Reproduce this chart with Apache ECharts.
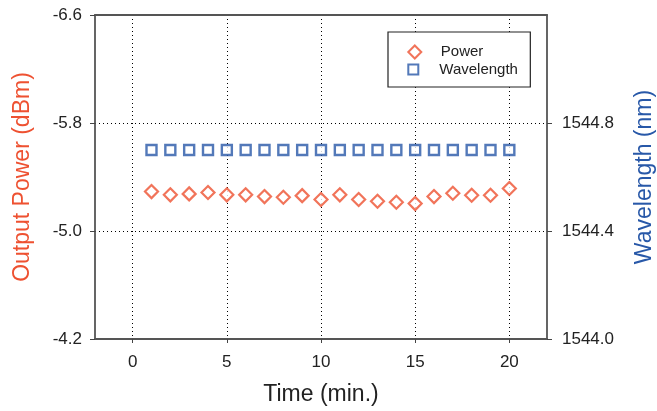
<!DOCTYPE html>
<html><head><meta charset="utf-8">
<script src="https://cdn.jsdelivr.net/npm/echarts@6/dist/echarts.min.js"></script>
<style>html,body{margin:0;padding:0;background:#fff}#c{width:657px;height:411px}</style>
</head><body><div id="c"></div>
<script>
const timeMin = [1,2,3,4,5,6,7,8,9,10,11,12,13,14,15,16,17,18,19,20];
const powerDbm = [-5.292,-5.268,-5.275,-5.285,-5.268,-5.268,-5.255,-5.250,-5.262,-5.233,-5.268,-5.233,-5.220,-5.213,-5.203,-5.255,-5.280,-5.265,-5.265,-5.315];
const wavelengthNm = [1544.70,1544.70,1544.70,1544.70,1544.70,1544.70,1544.70,1544.70,1544.70,1544.70,1544.70,1544.70,1544.70,1544.70,1544.70,1544.70,1544.70,1544.70,1544.70,1544.70];
const xTicks = [0,5,10,15,20];
const powerTicks = [-6.6,-5.8,-5.0,-4.2];
const wlTicks = [1544.0,1544.4,1544.8];

const RED = '#EE5131', BLUE = '#2858A8', FONT = 'Liberation Sans, Arial, sans-serif';
const chart = echarts.init(document.getElementById('c'), null, {renderer:'canvas'});
const axisLineStyle = {color:'#555', width:1.8};
const legendText = {fontFamily:FONT, fontSize:15, color:'#222'};
chart.setOption({
  animation:false,
  textStyle:{fontFamily:FONT},
  grid:{left:95, right:110, top:15, bottom:72, containLabel:false, outerBoundsMode:'none'},
  legend:[{
    orient:'vertical', left:388, top:32,
    backgroundColor:'#fff', borderColor:'#222', borderWidth:1.2,
    padding:[12.5,47,27.5,19.3], itemWidth:42, itemHeight:13,
    textStyle:legendText,
    data:[{name:'Power', icon:'path://M5,0L10,5L5,10L0,5Z'}]
  },{
    orient:'vertical', left:407.3, top:62,
    padding:0, itemWidth:42, itemHeight:10,
    textStyle:legendText,
    data:[{name:'Wavelength', icon:'path://M0,0L10,0L10,10L0,10Z'}]
  }],
  xAxis:[{
    type:'value', min:-2, max:22, position:'bottom',
    name:'Time (min.)', nameLocation:'middle', nameGap:44,
    nameTextStyle:{fontFamily:FONT, fontSize:23, color:'#222'},
    axisLine:{show:true, onZero:false, lineStyle:axisLineStyle},
    axisTick:{show:true, inside:false, length:4, customValues:xTicks, lineStyle:{color:'#444'}},
    axisLabel:{customValues:xTicks, margin:15, fontSize:17, color:'#222', fontFamily:FONT},
    splitLine:{show:true, lineStyle:{color:'#000', type:[1,3], width:1}}
  },{
    type:'value', min:-2, max:22, position:'top',
    axisLine:{show:true, onZero:false, lineStyle:axisLineStyle},
    axisTick:{show:false}, axisLabel:{show:false}, splitLine:{show:false}
  }],
  yAxis:[{
    type:'value', min:-6.6, max:-4.2, inverse:true, position:'left',
    name:'Output Power (dBm)', nameLocation:'middle', nameGap:61,
    nameTextStyle:{fontFamily:FONT, fontSize:23, color:RED},
    axisLine:{show:true, onZero:false, lineStyle:axisLineStyle},
    axisTick:{show:true, length:5, customValues:powerTicks, lineStyle:{color:'#444'}},
    axisLabel:{customValues:powerTicks, margin:13, fontSize:17, color:'#222', fontFamily:FONT,
      formatter:v=>v.toFixed(1)},
    splitLine:{show:true, lineStyle:{color:'#000', type:[1,3], width:1}}
  },{
    type:'value', min:1544.0, max:1545.2, position:'right',
    name:'Wavelength (nm)', nameLocation:'middle', nameGap:86,
    nameTextStyle:{fontFamily:FONT, fontSize:23, color:BLUE},
    axisLine:{show:true, onZero:false, lineStyle:axisLineStyle},
    axisTick:{show:true, length:5, customValues:wlTicks, lineStyle:{color:'#444'}},
    axisLabel:{customValues:wlTicks, margin:15, fontSize:17, color:'#222', fontFamily:FONT,
      formatter:v=>v.toFixed(1)},
    splitLine:{show:false}
  }],
  series:[{
    name:'Power', type:'scatter', xAxisIndex:0, yAxisIndex:0,
    symbol:'diamond', symbolSize:[13,13],
    itemStyle:{color:'#fff', borderColor:RED, borderWidth:2.2},
    data:timeMin.map((t,i)=>[t,powerDbm[i]])
  },{
    name:'Wavelength', type:'scatter', xAxisIndex:0, yAxisIndex:1,
    symbol:'rect', symbolSize:[10,10],
    itemStyle:{color:'#fff', borderColor:BLUE, borderWidth:2.4},
    data:timeMin.map((t,i)=>[t,wavelengthNm[i]])
  }]
});
</script></body></html>
